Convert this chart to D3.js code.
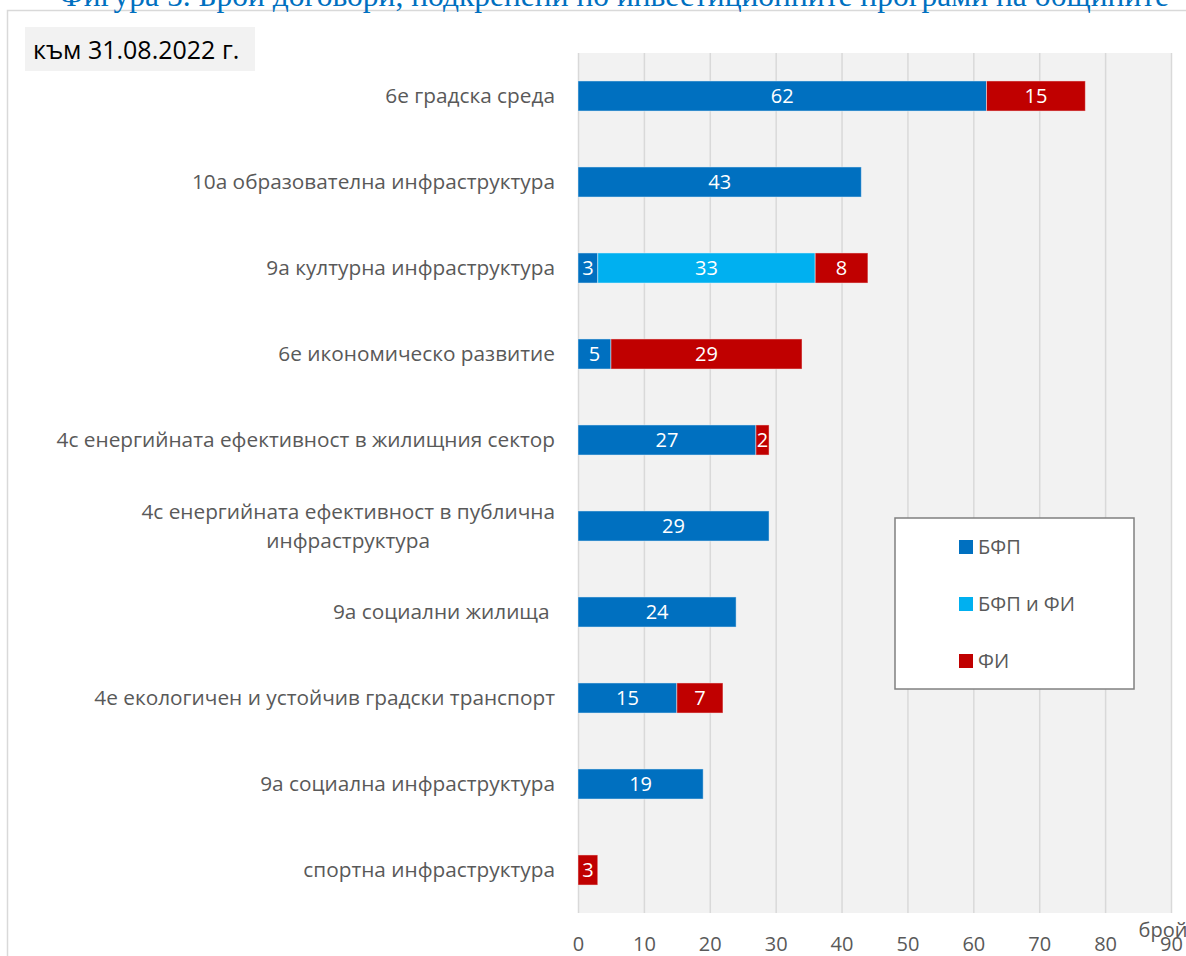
<!DOCTYPE html>
<html>
<head>
<meta charset="utf-8">
<script src="https://cdn.jsdelivr.net/npm/d3@7/dist/d3.min.js"></script>
<style>
  body { margin: 0; background: #fff; }
  text { font-family: "Open Sans", sans-serif; }
</style>
</head>
<body>
<div id="chart-area"></div>
<script>
const title = 'Фигура 5. Брой договори, подкрепени по инвестиционните програми на общините';
const dateNote = 'към 31.08.2022 г.';
const categories = [
  '6е градска среда',
  '10а образователна инфраструктура',
  '9а културна инфраструктура',
  '6е икономическо развитие',
  '4с енергийната ефективност в жилищния сектор',
  '4с енергийната ефективност в публична|инфраструктура',
  '9а социални жилища ',
  '4е екологичен и устойчив градски транспорт',
  '9а социална инфраструктура',
  'спортна инфраструктура'
];
const seriesNames = ['БФП', 'БФП и ФИ', 'ФИ'];
const bfp   = [62, 43, 3, 5, 27, 29, 24, 15, 19, 0];
const bfpFi = [0, 0, 33, 0, 0, 0, 0, 0, 0, 0];
const fi    = [15, 0, 8, 29, 2, 0, 0, 7, 0, 3];
const xTicks = [0, 10, 20, 30, 40, 50, 60, 70, 80, 90];
const axisTitle = 'брой';

const colors = ['#0070c0', '#00b0f0', '#c00000'];
const plot = { left: 578, right: 1171, top: 53, bottom: 913 };

const rows = categories.map((c, i) => ({ cat: c, 'БФП': bfp[i], 'БФП и ФИ': bfpFi[i], 'ФИ': fi[i] }));

const svg = d3.select('#chart-area').append('svg')
  .attr('width', 1186)
  .attr('height', 956);

// outer frame
svg.append('rect')
  .attr('x', 7.5).attr('y', 10.5)
  .attr('width', 1200).attr('height', 1000)
  .attr('fill', '#fff')
  .attr('stroke', '#d9d9d9')
  .attr('stroke-width', 1.5);

// title, mostly cut off by the top edge
svg.append('text')
  .attr('x', 614).attr('y', 6)
  .attr('text-anchor', 'middle')
  .style('font-family', '"Liberation Serif", serif')
  .style('font-size', '31.5px')
  .attr('fill', '#0070c0')
  .text(title);

// date note
svg.append('rect')
  .attr('x', 25).attr('y', 27)
  .attr('width', 230).attr('height', 44)
  .attr('fill', '#f2f2f2');
svg.append('text')
  .attr('x', 33).attr('y', 59)
  .style('font-size', '25px')
  .attr('fill', '#000')
  .text(dateNote);

const x = d3.scaleLinear().domain([0, 90]).range([plot.left, plot.right]);
const y = d3.scaleBand().domain(categories).range([plot.top, plot.bottom])
  .paddingInner(0.65).paddingOuter(0.325);

svg.append('rect')
  .attr('x', plot.left).attr('y', plot.top)
  .attr('width', plot.right - plot.left).attr('height', plot.bottom - plot.top)
  .attr('fill', '#f2f2f2');

const xAxis = d3.axisBottom(x).tickValues(xTicks)
  .tickSizeInner(-(plot.bottom - plot.top)).tickSizeOuter(0).tickPadding(24);
const gx = svg.append('g')
  .attr('transform', `translate(0,${plot.bottom})`)
  .call(xAxis);
gx.select('.domain').remove();
gx.selectAll('.tick line').attr('stroke', '#d9d9d9').attr('stroke-width', 1.5);
gx.selectAll('.tick text')
  .style('font-size', '20px')
  .style('font-family', '"Open Sans", sans-serif')
  .attr('fill', '#595959');

svg.append('text')
  .attr('x', 1163).attr('y', 937)
  .attr('text-anchor', 'middle')
  .style('font-size', '20px')
  .attr('fill', '#595959')
  .text(axisTitle);

// category labels
categories.forEach(c => {
  const lines = c.split('|');
  const cy = y(c) + y.bandwidth() / 2;
  if (lines.length === 1) {
    svg.append('text')
      .attr('x', 555).attr('y', cy).attr('dy', '0.35em')
      .attr('text-anchor', 'end')
      .style('font-size', '20.8px')
      .style('white-space', 'pre')
      .attr('fill', '#595959')
      .text(c);
  } else {
    const t = svg.append('text')
      .attr('y', cy)
      .style('font-size', '20.8px')
      .attr('fill', '#595959');
    const first = t.append('tspan').attr('x', 555).attr('dy', '-0.35em')
      .attr('text-anchor', 'end').text(lines[0]);
    const w = first.node().getComputedTextLength();
    t.append('tspan').attr('x', 555 - w / 2).attr('dy', '1.4em')
      .attr('text-anchor', 'middle').text(lines[1]);
  }
});

// stacked bars
const stacked = d3.stack().keys(seriesNames)(rows);
const layers = svg.selectAll('.layer').data(stacked).join('g')
  .attr('class', 'layer')
  .attr('fill', (d, i) => colors[i]);

layers.selectAll('rect')
  .data(d => d.filter(p => p[1] - p[0] > 0))
  .join('rect')
  .attr('x', d => x(d[0]))
  .attr('y', d => y(d.data.cat))
  .attr('width', d => x(d[1]) - x(d[0]))
  .attr('height', y.bandwidth())
  .attr('stroke', 'rgba(255,255,255,0.45)')
  .attr('stroke-width', 1);

layers.selectAll('.val')
  .data(d => d.filter(p => p[1] - p[0] > 0))
  .join('text')
  .attr('class', 'val')
  .attr('x', d => (x(d[0]) + x(d[1])) / 2)
  .attr('y', d => y(d.data.cat) + y.bandwidth() / 2)
  .attr('dy', '0.36em')
  .attr('text-anchor', 'middle')
  .style('font-size', '20px')
  .attr('fill', '#fff')
  .text(d => d[1] - d[0]);

// legend
const lg = svg.append('g');
lg.append('rect')
  .attr('x', 895).attr('y', 518)
  .attr('width', 239).attr('height', 171)
  .attr('fill', '#fff')
  .attr('stroke', '#808080')
  .attr('stroke-width', 1.5);
seriesNames.forEach((s, i) => {
  const ly = 547 + i * 57;
  lg.append('rect')
    .attr('x', 959).attr('y', ly - 7)
    .attr('width', 14).attr('height', 14)
    .attr('fill', colors[i]);
  lg.append('text')
    .attr('x', 978).attr('y', ly).attr('dy', '0.36em')
    .style('font-size', '20px')
    .attr('fill', '#595959')
    .text(s);
});
</script>
</body>
</html>
